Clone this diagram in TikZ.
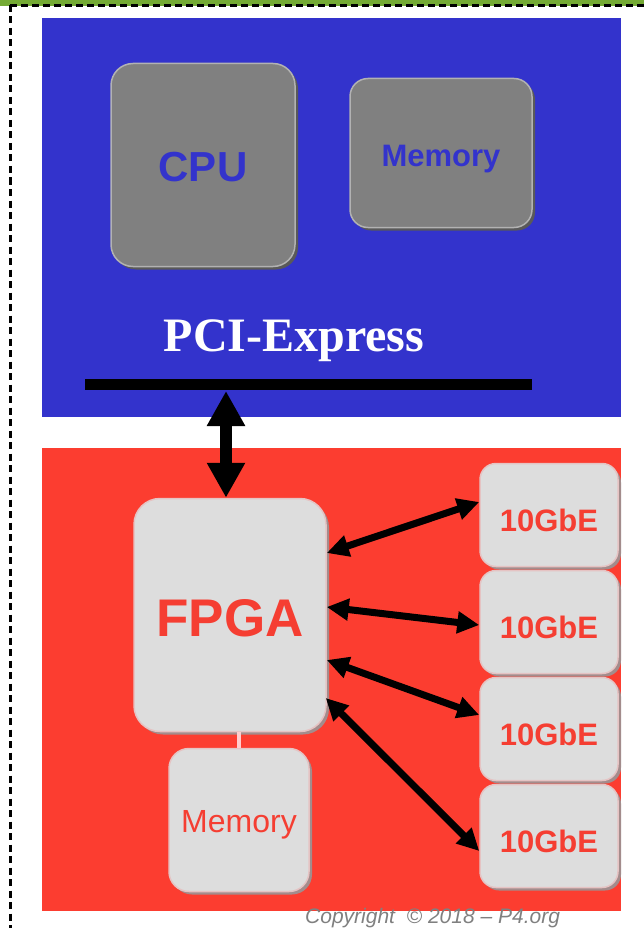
\documentclass[tikz,border=0pt]{standalone}
\usepackage{fontspec}
\setmainfont{Liberation Sans}
\newfontfamily\pciserif{Liberation Serif}
\usetikzlibrary{arrows.meta,shadows,calc}
\definecolor{bluebg}{HTML}{3333CC}
\definecolor{redbg}{HTML}{FC3D30}
\definecolor{greenband}{HTML}{74AA34}
\definecolor{graybox}{HTML}{808080}
\definecolor{lightbox}{HTML}{DDDDDD}
\definecolor{redtext}{HTML}{F53E32}
\newcommand{\lowertext}[2]{\raisebox{-#1}[\height][\depth]{#2}}
\begin{document}
\begin{tikzpicture}[x=1pt,y=-1pt,
  graycomp/.style={rectangle, rounded corners=22pt, inner sep=0pt, fill=graybox,
    draw=black!30, line width=1.5pt,
    drop shadow={shadow xshift=3pt, shadow yshift=-3pt, fill=black!65, opacity=1}},
  lightcomp/.style={rectangle, rounded corners=20pt, inner sep=0pt, fill=lightbox,
    draw=red!15!lightbox!90!white, line width=1.5pt,
    drop shadow={shadow xshift=3pt, shadow yshift=-3pt, fill=red!20!black!45, opacity=1}},
  ethbox/.style={lightcomp, minimum width=138pt, minimum height=103pt, rounded corners=16pt,
    text=redtext, font=\bfseries\fontsize{31}{34}\selectfont},
  dblarrow/.style={line width=7pt, {Triangle[length=22pt,width=21pt]}-{Triangle[length=22pt,width=21pt]}}
]
\useasboundingbox (0,0) rectangle (644,928);
% frame
\fill[greenband] (0,0) rectangle (644,6);
\draw[black, line width=2.3pt, dash pattern=on 7pt off 4pt] (10,5.5) -- (644,5.5);
\draw[black, line width=2.3pt, dash pattern=on 7pt off 4.5pt] (10.5,5) -- (10.5,928);
% backgrounds
\fill[bluebg] (42,18) rectangle (621,417);
\fill[redbg] (42,448) rectangle (621,911);
% host components
\node[graycomp, minimum width=184pt, minimum height=203pt, text=bluebg,
  font=\bfseries\fontsize{42}{46}\selectfont] (cpu) at (203,165) {\lowertext{2pt}{CPU}};
\node[graycomp, minimum width=182pt, minimum height=149pt, rounded corners=18pt, text=bluebg,
  font=\bfseries\fontsize{31}{34}\selectfont] (mem1) at (441,153) {\lowertext{6pt}{Memory}};
\node[text=white, font=\pciserif\bfseries\fontsize{48}{52}\selectfont, inner sep=0pt] (pci) at (294,341) {PCI-Express};
\coordinate (busL) at (85,384.5);
\coordinate (busR) at (532,384.5);
\draw[black, line width=11pt] (busL) -- (busR);
% board components
\node[lightcomp, minimum width=192pt, minimum height=233pt, rounded corners=26pt, text=redtext,
  font=\bfseries\fontsize{53}{58}\selectfont] (fpga) at (230,615) {\lowertext{3pt}{FPGA}};
\node[lightcomp, minimum width=140pt, minimum height=143pt, text=redtext,
  font=\fontsize{32}{36}\selectfont] (mem2) at (239,820) {\lowertext{5pt}{Memory}};
\draw[red!20!white, line width=4pt] (fpga.south -| mem2.north) -- (mem2.north);
\node[ethbox] (eth1) at (549,515) {\lowertext{5pt}{10GbE}};
\node[ethbox] (eth2) at (549,622) {\lowertext{5pt}{10GbE}};
\node[ethbox] (eth3) at (549,729) {\lowertext{5pt}{10GbE}};
\node[ethbox] (eth4) at (549,836) {\lowertext{5pt}{10GbE}};
% arrows
\coordinate (busmid) at (226,391);
\draw[line width=12pt, {Triangle[length=35pt,width=36pt]}-{Triangle[length=35pt,width=36pt]}] (busmid) -- (fpga.north -| busmid);
\draw[dblarrow] ($(fpga.east)+(0,-62)$) -- ($(eth1.west)+(0,-13)$);
\draw[dblarrow] ($(fpga.east)+(0,-8)$) -- ($(eth2.west)+(0,3)$);
\draw[dblarrow] ($(fpga.east)+(0,45)$) -- ($(eth3.west)+(0,-14)$);
\draw[dblarrow] ($(fpga.east)+(-1,83)$) -- ($(eth4.west)+(0,15)$);
% copyright
\node[anchor=base west, inner sep=0pt, text=graybox, font=\itshape\fontsize{21}{24}\selectfont] (copy) at (305,923) {Copyright\ \ \textcopyright\ 2018 -- P4.org};
\end{tikzpicture}
\end{document}
